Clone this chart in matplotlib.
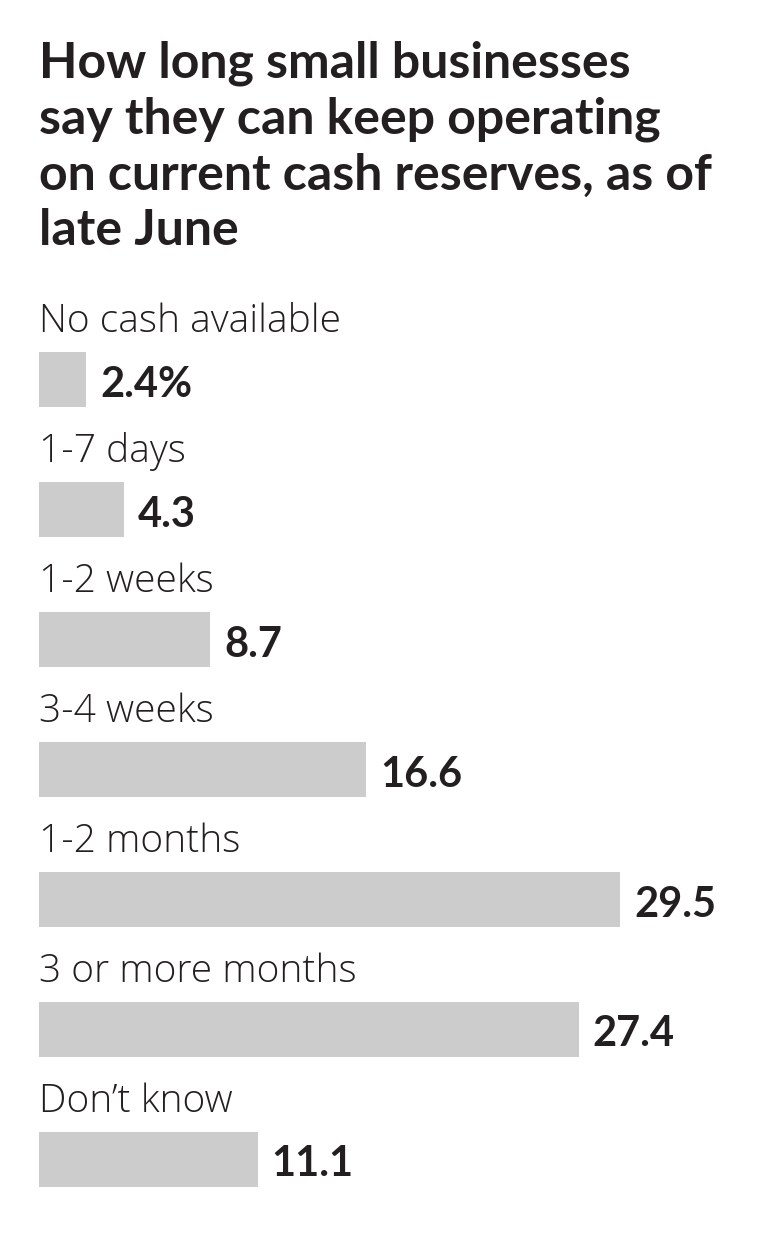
import matplotlib
matplotlib.use("Agg")
import matplotlib.pyplot as plt

#---------- data ----------
title = "How long small businesses\nsay they can keep operating\non current cash reserves, as of\nlate June"
categories = ["No cash available", "1-7 days", "1-2 weeks", "3-4 weeks",
              "1-2 months", "3 or more months", "Don\u2019t know"]
values = [2.4, 4.3, 8.7, 16.6, 29.5, 27.4, 11.1]
value_labels = ["2.4%", "4.3", "8.7", "16.6", "29.5", "27.4", "11.1"]

#---------- style ----------
W, H = 765, 1245
bar_color = "#cccccc"
text_color = "#231f20"
title_font = "Lato"
label_font = "Open Sans"
px_per_unit = 19.7   # bar length scale
row_px = 130         # row spacing
bar_px = 55          # bar thickness

fig = plt.figure(figsize=(W / 100, H / 100), dpi=100)
fig.patch.set_facecolor("white")

# axes laid out in pixel terms
left_px = 39
xmax = 35
top_px = 379.5 - row_px / 2
ax_h = row_px * len(categories)
ax = fig.add_axes([left_px / W, 1 - (top_px + ax_h) / H,
                   xmax * px_per_unit / W, ax_h / H])
ax.set_xlim(0, xmax)
ax.set_ylim(len(categories) - 0.5, -0.5)
ax.axis("off")

ypos = list(range(len(categories)))
bh = bar_px / row_px
ax.barh(ypos, values, height=bh, color=bar_color, linewidth=0)

for y, v, cat, lab in zip(ypos, values, categories, value_labels):
    # category label above the bar
    ax.text(0, y - bh / 2 - 20 / row_px, cat, ha="left", va="baseline",
            fontsize=28, family=label_font, fontweight="light", color=text_color)
    # value at the end of the bar
    ax.text(v + 14 / px_per_unit, y + 17 / row_px, lab, ha="left", va="baseline",
            fontsize=30, family=title_font, fontweight="bold", color=text_color)

#---------- title ----------
fig.text(left_px / W, 1 - 40 / H, title, ha="left", va="top",
         fontsize=36, family=title_font, fontweight="bold", color=text_color,
         linespacing=1.29)

fig.savefig("out.png", dpi=100, facecolor="white")
